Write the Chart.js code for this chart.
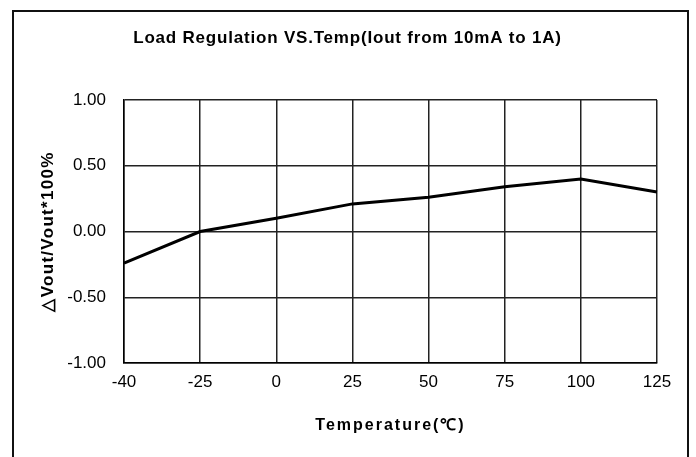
<!DOCTYPE html>
<html>
<head>
<meta charset="utf-8">
<script src="https://cdn.jsdelivr.net/npm/chart.js@4"></script>
<style>
  html, body { margin: 0; padding: 0; background: #fff; }
  #wrap { position: relative; width: 696px; height: 457px; overflow: hidden; }
  #frame { position: absolute; left: 12px; top: 10px; width: 673px; height: 470px; border: 2px solid #111; }
  #chart { position: absolute; left: 0; top: 0; }
</style>
</head>
<body>
<div id="wrap">
  <div id="frame"></div>
  <canvas id="chart" width="696" height="457"></canvas>
</div>
<script>
// --- Data ---
const temps = ['-40', '-25', '0', '25', '50', '75', '100', '125'];
const loadReg = [-0.24, 0.00, 0.10, 0.21, 0.26, 0.34, 0.40, 0.30];
const yMin = -1, yMax = 1, yStep = 0.5;

const titleText = 'Load Regulation VS.Temp(Iout from 10mA to 1A)';
const xTitle = 'Temperature(\u2103)';
const yTitle = '\u25B3Vout/Vout*100%';

Chart.defaults.font.family = '"Liberation Sans", Arial, sans-serif';
Chart.defaults.color = '#000';

const gridColor = '#222';

// wrap a draw call so its text gets some letter spacing (the original titles are spaced out)
function spaced(obj, fnName, spacing) {
    const orig = obj[fnName];
    obj[fnName] = function (...args) {
        const ctx = this.ctx;
        ctx.save();
        ctx.letterSpacing = spacing;
        const r = orig.apply(this, args);
        ctx.restore();
        return r;
    };
}

const spacingPlugin = {
    id: 'spacing',
    afterLayout(chart) {
        if (chart._spacedDone) return;
        chart._spacedDone = true;
        if (chart.titleBlock) spaced(chart.titleBlock, 'draw', '0.8px');
        spaced(chart.scales.x, 'drawTitle', '2px');
        spaced(chart.scales.y, 'drawTitle', '1.3px');
    }
};

new Chart(document.getElementById('chart').getContext('2d'), {
    type: 'line',
    data: {
        labels: temps,
        datasets: [{
            data: loadReg,
            borderColor: '#000',
            borderWidth: 3,
            pointRadius: 0,
            tension: 0,
            fill: false
        }]
    },
    options: {
        responsive: false,
        animation: false,
        layout: { padding: { left: 38, right: 39, top: 10, bottom: 10 } },
        plugins: {
            legend: { display: false },
            tooltip: { enabled: false },
            title: {
                display: true,
                text: titleText,
                font: { size: 17, weight: 'bold' },
                color: '#000',
                padding: { top: 18, bottom: 51.6 }
            }
        },
        scales: {
            x: {
                type: 'category',
                offset: false,
                grid: { color: gridColor, lineWidth: 1.5, drawTicks: false },
                border: { color: '#000', width: 1.5 },
                ticks: { font: { size: 17 }, padding: 9, maxRotation: 0, autoSkip: false },
                title: {
                    display: true,
                    text: xTitle,
                    font: { size: 16, weight: 'bold' },
                    padding: { top: 0, bottom: 12 }
                },
                afterFit: s => { s.height = 84; }
            },
            y: {
                min: yMin,
                max: yMax,
                grid: { color: gridColor, lineWidth: 1.5, drawTicks: false },
                border: { color: '#000', width: 1.5 },
                ticks: {
                    stepSize: yStep,
                    font: { size: 17 },
                    padding: 18,
                    callback: v => v.toFixed(2)
                },
                title: {
                    display: true,
                    text: yTitle,
                    font: { size: 17, weight: 'bold' },
                    padding: { top: 0, bottom: 0 }
                },
                afterFit: s => { s.width = 86; }
            }
        }
    },
    plugins: [spacingPlugin]
});
</script>
</body>
</html>
